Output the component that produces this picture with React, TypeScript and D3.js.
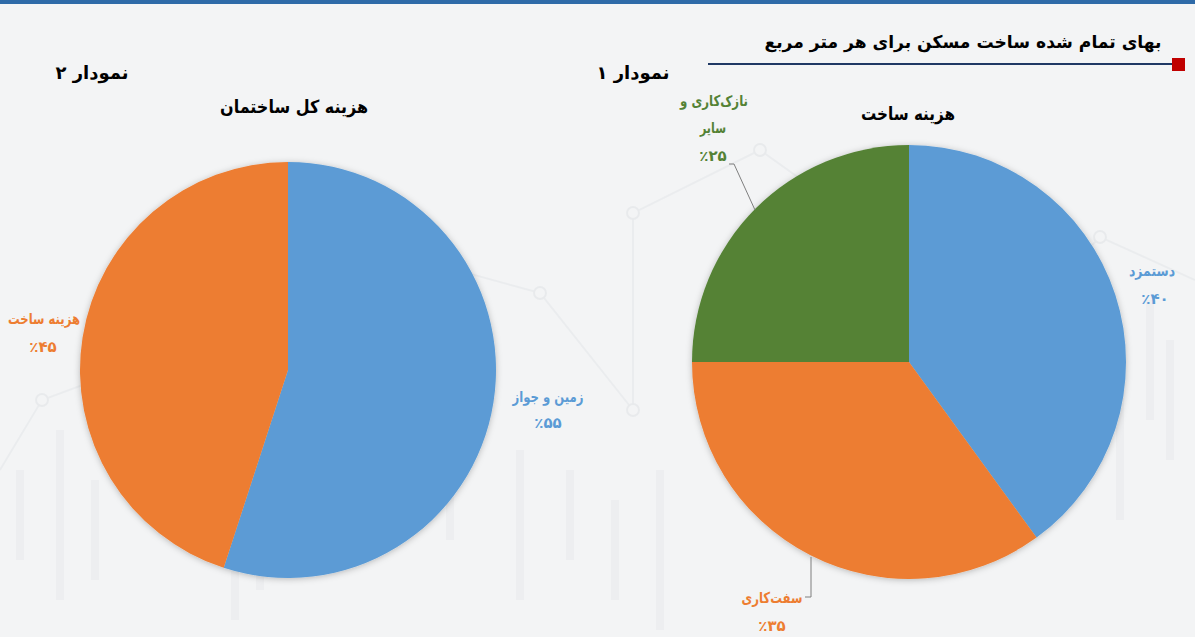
import * as d3 from 'd3'

const W = 1195
const H = 637

// chart 1: construction cost
const costLabels = ['دستمزد', 'سفت‌کاری', 'نازک‌کاری و سایر']
const costValues = [40, 35, 25]
const costPct = ['٪۴۰', '٪۳۵', '٪۲۵']
const costColors = ['#5b9bd5', '#ed7d31', '#548235']

// chart 2: total building cost
const totalLabels = ['زمین و جواز', 'هزینه ساخت']
const totalValues = [55, 45]
const totalPct = ['٪۵۵', '٪۴۵']
const totalColors = ['#5b9bd5', '#ed7d31']

// faint background watermark (decorative stock chart)
const bgLine = [
  [0, 470], [42, 400], [150, 360], [290, 300], [420, 260], [540, 293],
  [633, 410], [633, 213], [760, 150], [900, 250], [1010, 330], [1100, 237], [1195, 280]
]
const bgCandles = [
  [20, 470, 560], [60, 430, 600], [95, 480, 580], [235, 500, 620], [260, 470, 590],
  [450, 430, 540], [520, 450, 600], [570, 470, 560], [615, 500, 600], [660, 470, 630],
  [1050, 400, 520], [1080, 350, 470], [1120, 380, 520], [1150, 300, 420], [1170, 340, 460]
]

const FONT = '"DejaVu Sans", sans-serif'

function Pie({ cx, cy, r, values, colors, id }: {
  cx: number; cy: number; r: number; values: number[]; colors: string[]; id: string
}) {
  const arcs = d3.pie<number>().sort(null).value((d) => d)(values)
  const arc = d3.arc<d3.PieArcDatum<number>>().innerRadius(0).outerRadius(r)
  return (
    <g transform={`translate(${cx},${cy})`} filter={`url(#${id})`}>
      {arcs.map((a, i) => (
        <path key={i} d={arc(a) || ''} fill={colors[i]} />
      ))}
    </g>
  )
}

export default function App() {
  const line = d3.line<number[]>().x((d) => d[0]).y((d) => d[1])
  const lbl = { fontFamily: FONT, fontWeight: 700, fontSize: 15, textAnchor: 'middle' as const }
  const ttl = { fontFamily: FONT, fontWeight: 700, fontSize: 18, textAnchor: 'middle' as const, fill: '#000' }
  const fit = (w: number) => ({ textLength: w, lengthAdjust: 'spacingAndGlyphs' as const })

  return (
    <div style={{ position: 'fixed', left: 0, top: 0 }}>
      <svg width={W} height={H} style={{ display: 'block' }}>
        <defs>
          <filter id="sh" x="-10%" y="-10%" width="120%" height="120%">
            <feDropShadow dx="0" dy="1" stdDeviation="3" floodColor="#000" floodOpacity="0.25" />
          </filter>
        </defs>
        <rect width={W} height={H} fill="#f3f4f5" />

        {/* watermark */}
        <g opacity={0.35}>
          {bgCandles.map((c, i) => (
            <rect key={i} x={c[0] - 4} y={c[1]} width={8} height={c[2] - c[1]} fill="#e3e5e8" />
          ))}
          <path d={line(bgLine) || ''} fill="none" stroke="#dcdfe3" strokeWidth={2} />
          {bgLine.slice(1, -1).map((p, i) => (
            <circle key={i} cx={p[0]} cy={p[1]} r={6} fill="#f3f4f5" stroke="#d6d9dd" strokeWidth={2} />
          ))}
        </g>

        <rect x={0} y={0} width={W} height={4} fill="#2e6aa8" />

        {/* header */}
        <text x={963} y={48} fontFamily={FONT} fontWeight={700} fontSize={17.5} textAnchor="middle" fill="#000" {...fit(397)}>
          بهای تمام شده ساخت مسکن برای هر متر مربع
        </text>
        <line x1={708} x2={1174} y1={64} y2={64} stroke="#1f3864" strokeWidth={2} />
        <rect x={1172} y={58} width={13} height={13} fill="#c00000" />

        <text x={633} y={79} {...ttl}>نمودار ۱</text>
        <text x={92} y={79} {...ttl}>نمودار ۲</text>
        <text x={908} y={120} {...ttl} {...fit(94)}>هزینه ساخت</text>
        <text x={294} y={113} {...ttl} {...fit(148)}>هزینه کل ساختمان</text>

        <Pie cx={909} cy={362} r={217} values={costValues} colors={costColors} id="sh" />
        <Pie cx={288} cy={370} r={208} values={totalValues} colors={totalColors} id="sh" />

        {/* leader lines */}
        <polyline points="729,164 734,164 755,210" fill="none" stroke="#7f7f7f" strokeWidth={1} />
        <polyline points="811,557 811,597 805,597" fill="none" stroke="#7f7f7f" strokeWidth={1} />

        {/* chart 1 labels */}
        <text x={1152} y={276} {...lbl} fill={costColors[0]} {...fit(46)}>{costLabels[0]}</text>
        <text x={1155} y={304} {...lbl} fill={costColors[0]}>{costPct[0]}</text>
        <text x={772} y={603} {...lbl} fill={costColors[1]} {...fit(61)}>{costLabels[1]}</text>
        <text x={772} y={631} {...lbl} fill={costColors[1]}>{costPct[1]}</text>
        <text x={714} y={106} {...lbl} fill={costColors[2]} {...fit(68)}>نازک‌کاری و</text>
        <text x={713} y={133} {...lbl} fill={costColors[2]} {...fit(26)}>سایر</text>
        <text x={713} y={161} {...lbl} fill={costColors[2]}>{costPct[2]}</text>

        {/* chart 2 labels */}
        <text x={548} y={402} {...lbl} fill={totalColors[0]} {...fit(71)}>{totalLabels[0]}</text>
        <text x={548} y={428} {...lbl} fill={totalColors[0]}>{totalPct[0]}</text>
        <text x={44} y={324} {...lbl} fill={totalColors[1]} {...fit(72)}>{totalLabels[1]}</text>
        <text x={43} y={352} {...lbl} fill={totalColors[1]}>{totalPct[1]}</text>
      </svg>
    </div>
  )
}
